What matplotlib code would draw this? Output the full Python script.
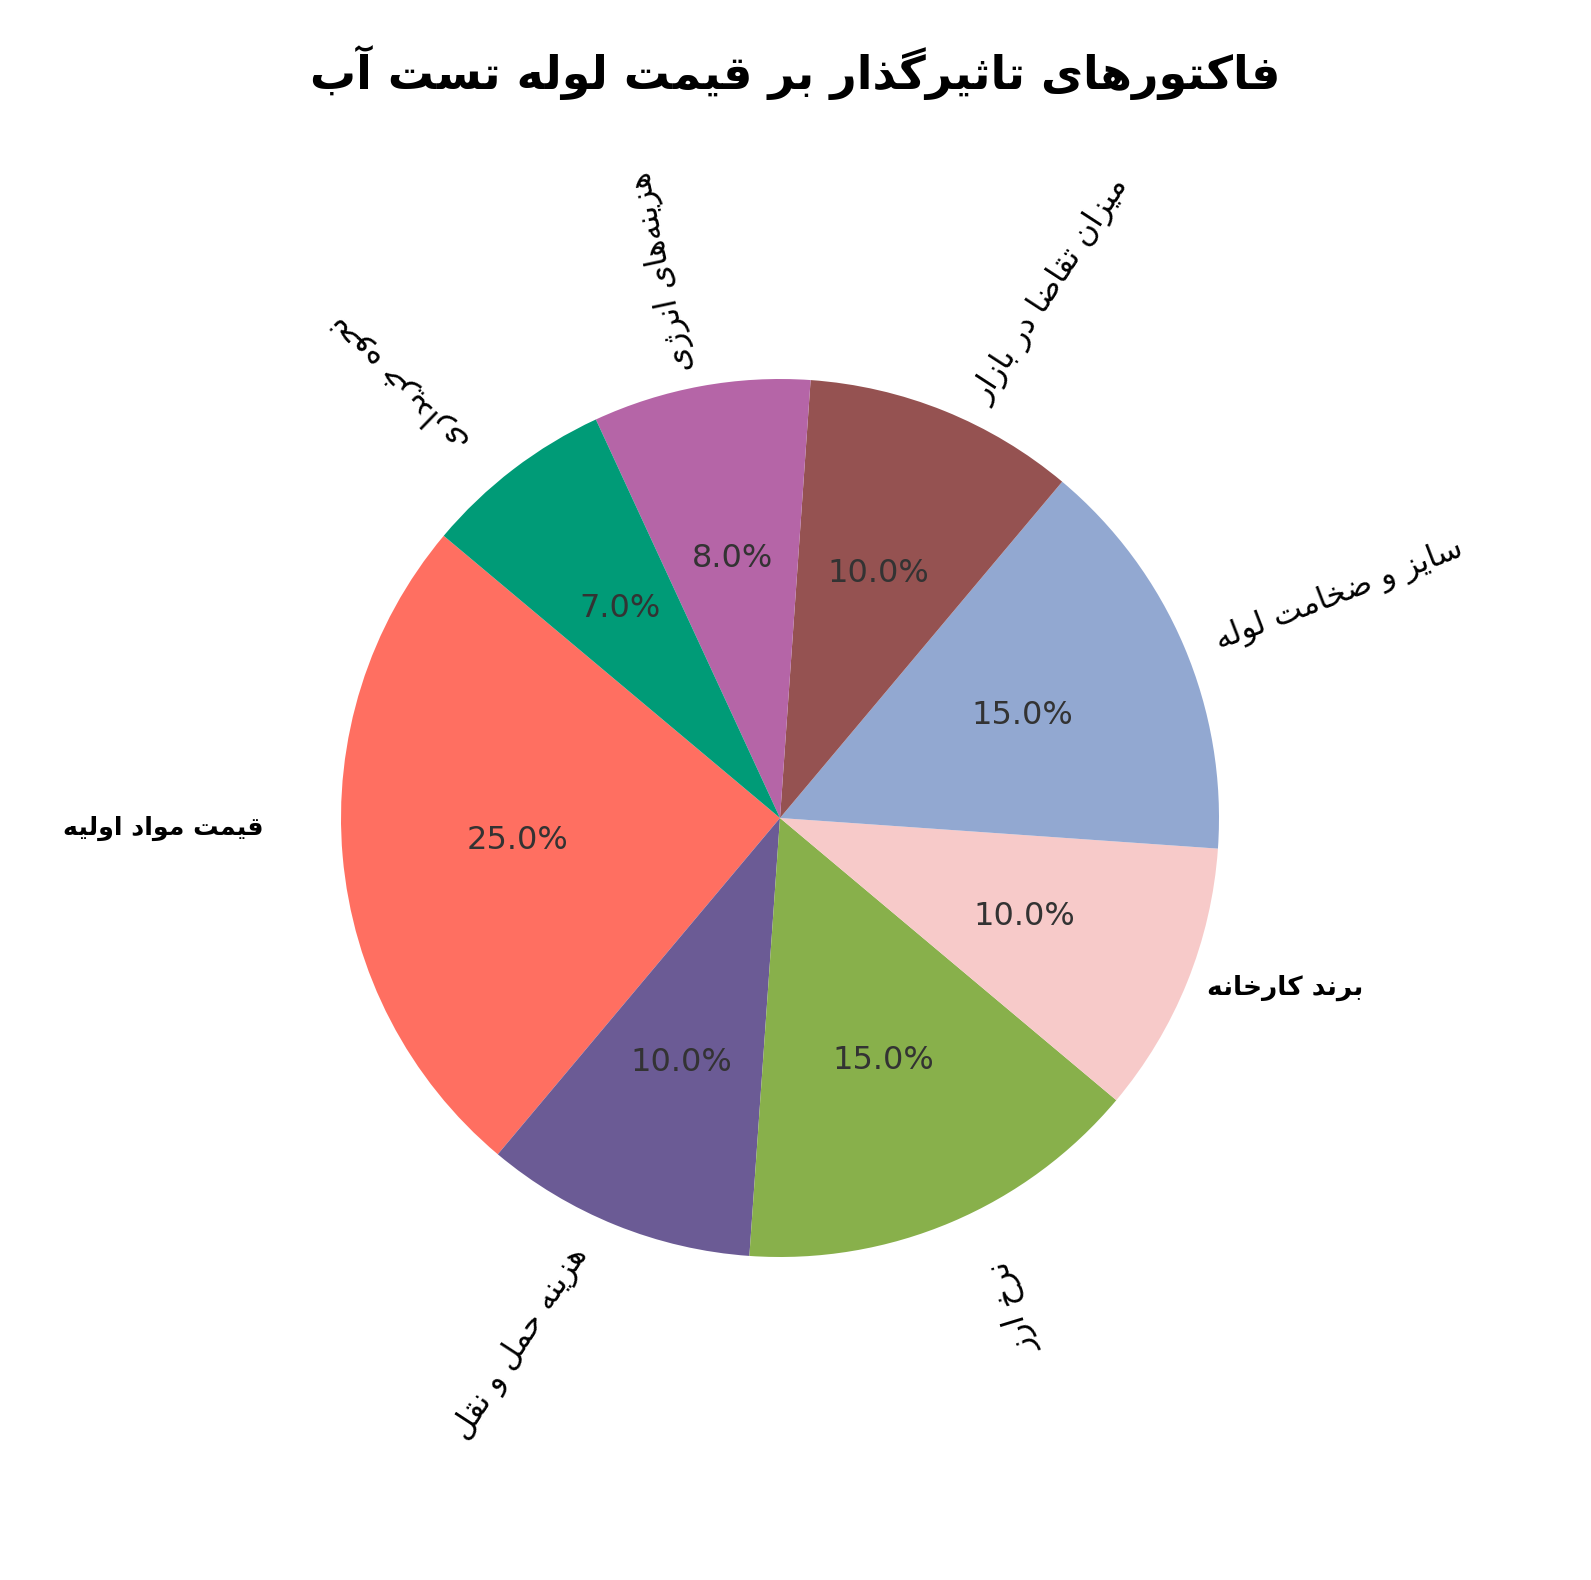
import matplotlib
matplotlib.use("Agg")
import matplotlib.pyplot as plt
import numpy as np

# ---------------- data ----------------
title_text = "فاکتورهای تاثیرگذار بر قیمت لوله تست آب"
categories = ["قیمت مواد اولیه", "هزینه حمل و نقل", "نرخ ارز", "برند کارخانه",
              "سایز و ضخامت لوله", "میزان تقاضا در بازار", "هزینه‌های انرژی", "نحوه خریداری"]
values = [25, 10, 15, 10, 15, 10, 8, 7]
colors = ["#FF6F61", "#6B5B95", "#88B04B", "#F7CAC9",
          "#92A8D1", "#955251", "#B565A7", "#009B77"]

# label styling (per wedge): radial distance, angular nudge, rotation, alignment, bold size
label_dist = [1.177, 1.083, 1.13, 1.048, 1.073, 1.054, 1.04, 1.11]
label_dang = [-3.8, -2.8, 3.4, 0.3, -1.0, -3.6, 1.8, 3.0]
label_rot = [0, 57, 107, 0, 21, 57, 102, 136]
label_ha = ['right', 'right', 'right', 'left', 'left', 'left', 'left', 'left']
label_bold = [18.2, None, None, 19, None, None, None, None]

# ---------------- minimal Arabic/Persian shaping ----------------
F = {
    'ا': ('\uFE8D', '\uFE8E', None, None), 'آ': ('\uFE81', '\uFE82', None, None),
    'ب': ('\uFE8F', '\uFE90', '\uFE91', '\uFE92'), 'ت': ('\uFE95', '\uFE96', '\uFE97', '\uFE98'),
    'ث': ('\uFE99', '\uFE9A', '\uFE9B', '\uFE9C'), 'ج': ('\uFE9D', '\uFE9E', '\uFE9F', '\uFEA0'),
    'ح': ('\uFEA1', '\uFEA2', '\uFEA3', '\uFEA4'), 'خ': ('\uFEA5', '\uFEA6', '\uFEA7', '\uFEA8'),
    'د': ('\uFEA9', '\uFEAA', None, None), 'ذ': ('\uFEAB', '\uFEAC', None, None),
    'ر': ('\uFEAD', '\uFEAE', None, None), 'ز': ('\uFEAF', '\uFEB0', None, None),
    'س': ('\uFEB1', '\uFEB2', '\uFEB3', '\uFEB4'), 'ش': ('\uFEB5', '\uFEB6', '\uFEB7', '\uFEB8'),
    'ص': ('\uFEB9', '\uFEBA', '\uFEBB', '\uFEBC'), 'ض': ('\uFEBD', '\uFEBE', '\uFEBF', '\uFEC0'),
    'ط': ('\uFEC1', '\uFEC2', '\uFEC3', '\uFEC4'), 'ظ': ('\uFEC5', '\uFEC6', '\uFEC7', '\uFEC8'),
    'ع': ('\uFEC9', '\uFECA', '\uFECB', '\uFECC'), 'غ': ('\uFECD', '\uFECE', '\uFECF', '\uFED0'),
    'ف': ('\uFED1', '\uFED2', '\uFED3', '\uFED4'), 'ق': ('\uFED5', '\uFED6', '\uFED7', '\uFED8'),
    'ل': ('\uFEDD', '\uFEDE', '\uFEDF', '\uFEE0'), 'م': ('\uFEE1', '\uFEE2', '\uFEE3', '\uFEE4'),
    'ن': ('\uFEE5', '\uFEE6', '\uFEE7', '\uFEE8'), 'ه': ('\uFEE9', '\uFEEA', '\uFEEB', '\uFEEC'),
    'و': ('\uFEED', '\uFEEE', None, None), 'ی': ('\uFBFC', '\uFBFD', '\uFBFE', '\uFBFF'),
    'ک': ('\uFED9', '\uFEDA', '\uFEDB', '\uFEDC'), 'گ': ('\uFB92', '\uFB93', '\uFB94', '\uFB95'),
    'پ': ('\uFB56', '\uFB57', '\uFB58', '\uFB59'), 'چ': ('\uFB7A', '\uFB7B', '\uFB7C', '\uFB7D'),
    'ژ': ('\uFB8A', '\uFB8B', None, None), 'ئ': ('\uFE89', '\uFE8A', '\uFE8B', '\uFE8C'),
}
LAMALEF = {'ا': ('\uFEFB', '\uFEFC'), 'آ': ('\uFEF5', '\uFEF6')}


def fa(s):
    ch = list(s)
    out = []
    i = 0
    while i < len(ch):
        c = ch[i]
        if c not in F:
            if c != '\u200c':
                out.append(c)
            i += 1
            continue
        prev = ch[i - 1] if i > 0 else None
        jp = prev in F and F[prev][2] is not None
        if c == 'ل' and i + 1 < len(ch) and ch[i + 1] in LAMALEF:
            out.append(LAMALEF[ch[i + 1]][1 if jp else 0])
            i += 2
            continue
        nxt = ch[i + 1] if i + 1 < len(ch) else None
        iso, fin, ini, med = F[c]
        jn = ini is not None and nxt in F
        if jp and jn:
            out.append(med)
        elif jp:
            out.append(fin)
        elif jn:
            out.append(ini)
        else:
            out.append(iso)
        i += 1
    return ''.join(reversed(out))


# ---------------- figure ----------------
W, H = 1591, 1580
fig = plt.figure(figsize=(W / 100, H / 100), dpi=100)
cx, cy, r = 780 / W, 1 - 818 / H, 439
ax = fig.add_axes([cx - r / W, cy - r / H, 2 * r / W, 2 * r / H])

wedges, texts, autotexts = ax.pie(
    values, labels=[fa(c) for c in categories], colors=colors, startangle=140,
    counterclock=True, autopct='%1.1f%%', pctdistance=0.6, labeldistance=1.1,
    rotatelabels=True, textprops={'fontsize': 22.5, 'color': 'black'},
    wedgeprops={'linewidth': 0})
ax.set_xlim(-1, 1)
ax.set_ylim(-1, 1)
ax.set_aspect('equal')
ax.axis('off')

for at in autotexts:
    at.set_fontsize(23)
    at.set_color('#333333')

for i, (w, t) in enumerate(zip(wedges, texts)):
    mid = np.deg2rad((w.theta1 + w.theta2) / 2.0 + label_dang[i])
    t.set_position((label_dist[i] * np.cos(mid), label_dist[i] * np.sin(mid)))
    t.set_rotation(label_rot[i])
    t.set_rotation_mode('anchor')
    t.set_va('center')
    t.set_ha(label_ha[i])
    if label_bold[i]:
        t.set_fontweight('bold')
        t.set_fontsize(label_bold[i])

fig.text(0.5, 1 - 73 / H, fa(title_text), ha='center', va='center',
         fontsize=33, fontweight='bold')

fig.savefig("out.png", dpi=100)
